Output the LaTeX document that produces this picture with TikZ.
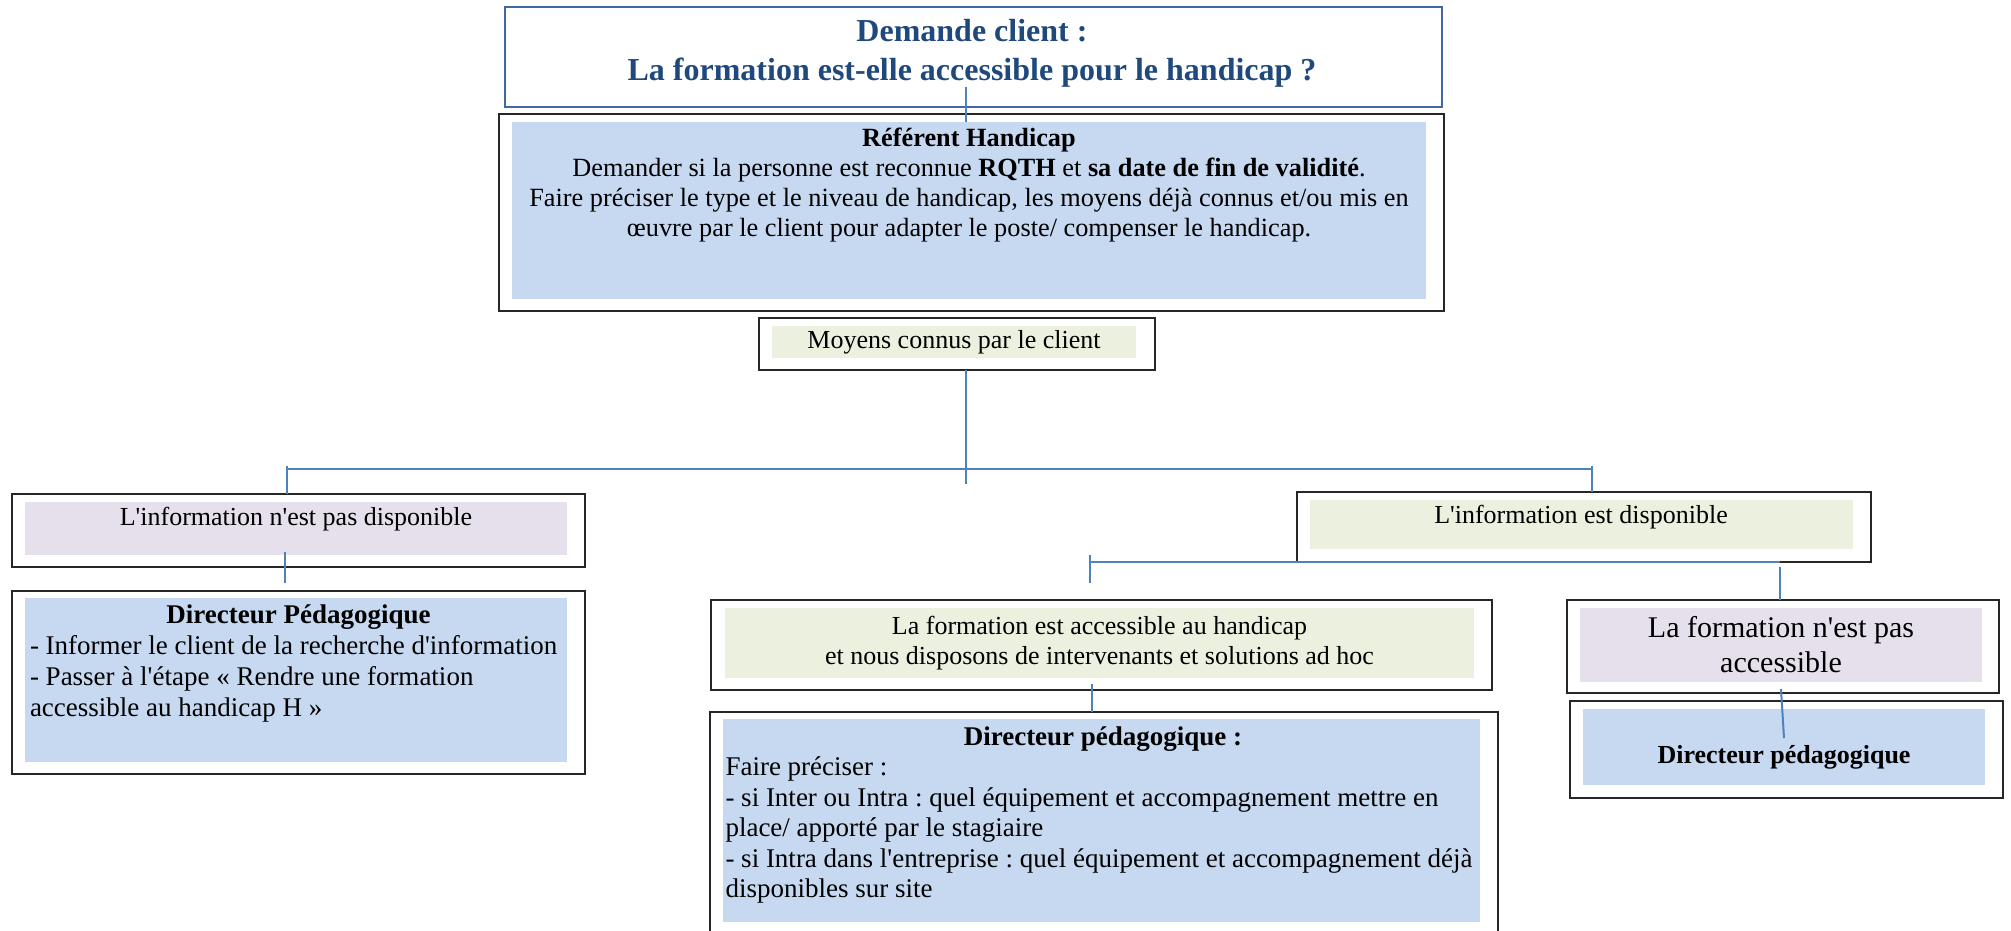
\documentclass[tikz,border=0pt]{standalone}
\usepackage{fontspec}
\defaultfontfeatures[\rmfamily]{}
\setmainfont{Liberation Serif}
\usepackage{tikz}
\usetikzlibrary{positioning,calc}
\definecolor{fondbleu}{RGB}{198,217,241}
\definecolor{fondvert}{RGB}{235,241,222}
\definecolor{fondmauve}{RGB}{229,224,236}
\definecolor{trait}{RGB}{79,129,189}
\definecolor{titre}{RGB}{31,73,125}
\definecolor{bordtitre}{RGB}{65,105,160}
\frenchspacing

\begin{document}
\begin{tikzpicture}[x=1pt,y=-1pt,inner sep=0pt,outer sep=0pt]
	\tikzstyle{cadre}=[draw=black!85,line width=2pt]
	\tikzstyle{fond}=[draw=none]
	\tikzstyle{corps}=[font=\fontsize{26}{30}\selectfont]
	\tikzstyle{link}=[draw=trait,line width=2pt]
	\useasboundingbox (0,0) rectangle (2011,930);
	
	% question du client
	\node[draw=bordtitre,line width=2pt,minimum width=937,minimum height=100](demandbox) at (973.5,57){};
	\node[align=center,text=titre,font=\fontsize{32}{39}\selectfont\bfseries](demande) at (972,53){Demande client :\\La formation est-elle accessible pour le handicap ?};
	
	% referent handicap
	\node[cadre,minimum width=945,minimum height=197](refbox) at (971.5,212.5){};
	\node[fond,fill=fondbleu,minimum width=914,minimum height=177](reffill) at (969,210.5){};
	\node[font=\fontsize{26.3}{30}\selectfont,align=center](ref) at (969,185){\textbf{Référent Handicap}\\Demander si la personne est reconnue \textbf{RQTH} et \textbf{sa date de fin de validité}.\\Faire préciser le type et le niveau de handicap, les moyens déjà connus et/ou mis en\\œuvre par le client pour adapter le poste/ compenser le handicap.};
	
	\node[cadre,minimum width=396,minimum height=52](moyensbox) at (957,344){};
	\node[corps,fill=fondvert,minimum width=364,minimum height=32](moyens) at (954,342){Moyens connus par le client};
	
	% branche gauche
	\node[cadre,minimum width=573,minimum height=73](nondispobox) at (298.5,530.5){};
	\node[fond,fill=fondmauve,minimum width=542,minimum height=53](nondispofill) at (296,528.5){};
	\node[corps](nondispo) at (296,519){L'information n'est pas disponible};
	
	\node[cadre,minimum width=573,minimum height=183](dirpedgbox) at (298.5,682.5){};
	\node[fond,fill=fondbleu,minimum width=542,minimum height=164](dirpedgfill) at (296,680){};
	\node[font=\fontsize{27}{31}\selectfont,text width=537,align=left](dirpedg) at (298.5,663){\spaceskip=0pt\xspaceskip=0pt\makebox[\linewidth]{\textbf{Directeur Pédagogique}}\\- Informer le client de la recherche d'information\\- Passer à l'étape «~Rendre une formation\\accessible au handicap H~»};
	
	% branche droite
	\node[cadre,minimum width=574,minimum height=70](dispobox) at (1584,527){};
	\node[fond,fill=fondvert,minimum width=543,minimum height=49](dispofill) at (1581.5,524.5){};
	\node[corps](dispo) at (1581,517){L'information est disponible};
	
	\node[cadre,minimum width=781,minimum height=90](accesbox) at (1101.5,645){};
	\node[corps,align=center,fill=fondvert,minimum width=749,minimum height=70](acces) at (1099.5,643){La formation est accessible au handicap\\et nous disposons de intervenants et solutions ad hoc};
	
	\node[cadre,minimum width=788,minimum height=240](dirpedmbox) at (1104,832){};
	\node[fond,fill=fondbleu,minimum width=757,minimum height=203](dirpedmfill) at (1101.5,820.5){};
	\node[font=\fontsize{27}{30.4}\selectfont,text width=755,align=left](dirpedm) at (1103,815){\spaceskip=0pt\xspaceskip=0pt\makebox[\linewidth]{\textbf{Directeur pédagogique :}}\\Faire préciser :\\- si Inter ou Intra : quel équipement et accompagnement mettre en\\place/ apporté par le stagiaire\\- si Intra dans l'entreprise : quel équipement et accompagnement déjà\\disponibles sur site};
	
	\node[cadre,minimum width=432,minimum height=93](nonaccesbox) at (1783,646.5){};
	\node[font=\fontsize{30}{35}\selectfont,align=center,fill=fondmauve,minimum width=402,minimum height=74](nonacces) at (1781,645){La formation n'est pas\\accessible};
	
	\node[cadre,minimum width=433,minimum height=97](dirpeddbox) at (1786.5,749.5){};
	\node[fond,fill=fondbleu,minimum width=402,minimum height=76](dirpeddfill) at (1784,747){};
	\node[corps,font=\fontsize{26}{30}\selectfont\bfseries](dirpedd) at (1784,757){Directeur pédagogique};
	
	% traits
	\coordinate (tronc) at (966,484);
	\coordinate (brG) at (287,469);
	\coordinate (brD) at (1592,469);
	\coordinate (brA) at (1090,562);
	\coordinate (brB) at (1780,562);
	\path[link] (demande.south -| tronc) -- (reffill.north -| tronc);
	\path[link] (moyensbox.south -| tronc) -- (tronc);
	\path[link] (brG) -- (brD);
	\path[link] ([yshift=3]brG) -- (brG |- nondispobox.north);
	\path[link] ([yshift=3]brD) -- (brD |- dispobox.north);
	\path[link] ([xshift=-11,yshift=3]nondispofill.south) -- ([xshift=-13.5,yshift=8]dirpedgbox.north);
	\path[link] (brA) -- (brB);
	\path[link] ([yshift=7]brA) -- ([yshift=-21]brA);
	\path[link] ([yshift=-5]brB) -- (brB |- nonaccesbox.north);
	\path[link] ([xshift=-7.5,yshift=-6]acces.south) -- ([xshift=-12]dirpedmbox.north);
	\path[link] ([yshift=-7]nonacces.south) -- ([yshift=9]dirpeddfill.center);
\end{tikzpicture}
\end{document}
